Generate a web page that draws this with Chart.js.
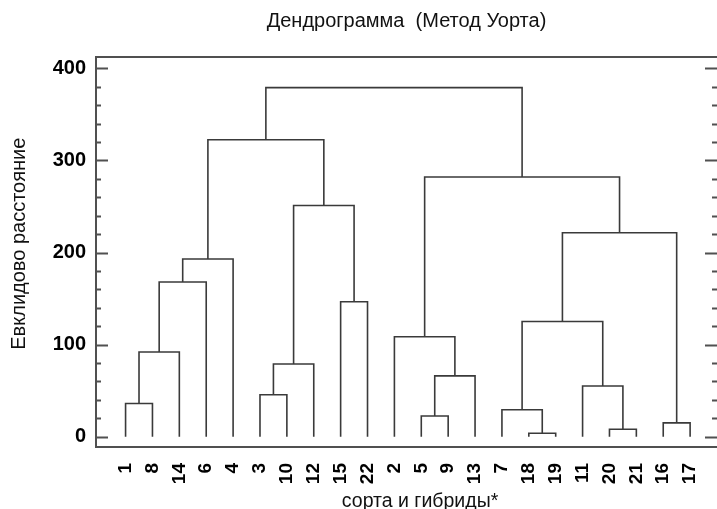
<!DOCTYPE html>
<html>
<head>
<meta charset="utf-8">
<script src="https://cdn.jsdelivr.net/npm/chart.js@4.4.1/dist/chart.umd.min.js"></script>
<style>
html,body{margin:0;padding:0;background:#fff;overflow:hidden;}
canvas{display:block;}
</style>
</head>
<body>
<canvas id="c" width="717" height="509"></canvas>
<script>
// Leaf labels in dendrogram order (сорта и гибриды)
const leafLabels = ['1','8','14','6','4','3','10','12','15','22','2','5','9','13','7','18','19','11','20','21','16','17'];
// Merges: node ids < 22 are leaves (by position), >= 22 are clusters formed in order
const mergeA      = [0, 22, 23, 24, 5, 26, 8, 27, 25, 11, 31, 10, 15, 14, 18, 17, 35, 20, 38, 33, 30];
const mergeB      = [1, 2,  3,  4,  6, 7,  9, 28, 29, 12, 13, 32, 16, 34, 19, 36, 37, 21, 39, 40, 41];
const mergeHeight = [36, 92, 168, 193, 45.5, 79, 146.5, 251, 322.5, 22.5, 66, 108.5, 3.7, 29.3, 8, 55, 125, 15, 221.5, 282, 379];
// Axis tick values
const yTickValues = [0, 100, 200, 300, 400];
const yMinorValues = [0,20,40,60,80,100,120,140,160,180,200,220,240,260,280,300,320,340,360,380,400];

const nLeaves = leafLabels.length;
const nodeX = [], nodeH = [];
for (let i = 0; i < nLeaves; i++) { nodeX.push(i + 1); nodeH.push(0); }
const datasets = [];
for (let k = 0; k < mergeHeight.length; k++) {
  const a = mergeA[k], b = mergeB[k], h = mergeHeight[k];
  datasets.push({
    data: [
      {x: nodeX[a], y: nodeH[a]},
      {x: nodeX[a], y: h},
      {x: nodeX[b], y: h},
      {x: nodeX[b], y: nodeH[b]}
    ],
    showLine: true,
    borderColor: '#3a3a3a',
    borderWidth: 1.6,
    pointRadius: 0,
    tension: 0,
    fill: false
  });
  nodeX.push((nodeX[a] + nodeX[b]) / 2);
  nodeH.push(h);
}

const tickPlugin = {
  id: 'innerTicks',
  afterDraw(chart) {
    const {ctx, chartArea} = chart;
    const ys = chart.scales.y;
    ctx.save();
    ctx.strokeStyle = '#505050';
    ctx.lineWidth = 2;
    yMinorValues.forEach(v => {
      const major = yTickValues.includes(v);
      const py = Math.round(ys.getPixelForValue(v)) + 0.5;
      const lenL = major ? 12 : 5;
      const lenR = major ? 12 : 5;
      ctx.beginPath();
      ctx.moveTo(chartArea.left, py);
      ctx.lineTo(chartArea.left + lenL, py);
      ctx.moveTo(chartArea.right, py);
      ctx.lineTo(chartArea.right - lenR, py);
      ctx.stroke();
    });
    ctx.restore();
  }
};

const noPad = (s) => { s.paddingLeft = 0; s.paddingRight = 0; };

new Chart(document.getElementById('c'), {
  type: 'scatter',
  data: { datasets },
  plugins: [tickPlugin],
  options: {
    responsive: false,
    animation: false,
    devicePixelRatio: 1,
    layout: { padding: 0 },
    plugins: { legend: {display: false}, tooltip: {enabled: false}, title: {display: false} },
    scales: {
      x: {
        type: 'linear', position: 'bottom', min: -0.1, max: 23,
        afterFit(s) { s.height = 62; noPad(s); },
        afterBuildTicks(s) { s.ticks = leafLabels.map((_, i) => ({value: i + 1})); },
        grid: { display: false },
        border: { display: true, color: '#505050', width: 2 },
        ticks: {
          autoSkip: false, minRotation: 90, maxRotation: 90, padding: 8,
          color: '#000', font: {family: 'Liberation Sans, Arial', size: 19, weight: 'bold'},
          callback: (v) => leafLabels[Math.round(v) - 1]
        },
        title: {
          display: true, text: '     сорта и гибриды*', color: '#111',
          font: {family: 'Liberation Sans, Arial', size: 19.5}, padding: {top: 0, bottom: -4}
        }
      },
      x2: {
        type: 'linear', position: 'top', min: -0.1, max: 23,
        afterFit(s) { s.height = 57; noPad(s); },
        grid: { display: false },
        border: { display: true, color: '#505050', width: 2 },
        ticks: { display: false },
        title: {
          display: true, text: 'Дендрограмма  (Метод Уорта)', color: '#111',
          font: {family: 'Liberation Sans, Arial', size: 20}, padding: {top: 9, bottom: 0}
        }
      },
      y: {
        type: 'linear', min: -11.2, max: 412.3,
        afterFit(s) { s.width = 96; },
        afterBuildTicks(s) { s.ticks = yTickValues.map(v => ({value: v})); },
        grid: { display: false },
        border: { display: true, color: '#505050', width: 2 },
        ticks: { padding: 2, color: '#000', font: {family: 'Liberation Sans, Arial', size: 20, weight: 'bold'} },
        title: {
          display: true, text: '   Евклидово расстояние', color: '#111',
          font: {family: 'Liberation Sans, Arial', size: 20}, padding: {top: 7, bottom: 0}
        }
      }
    }
  }
});
</script>
</body>
</html>
